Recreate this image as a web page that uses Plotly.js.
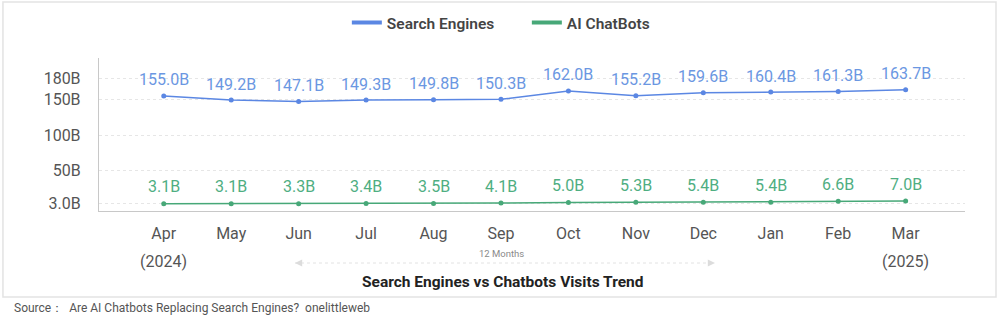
<!DOCTYPE html>
<html>
<head>
<meta charset="utf-8">
<script src="https://cdn.plot.ly/plotly-3.0.1.min.js"></script>
<style>
html,body{margin:0;padding:0;background:#fff;}
#chart{width:1000px;height:317px;}
</style>
</head>
<body>
<div id="chart"></div>
<script>
const months = ["Apr","May","Jun","Jul","Aug","Sep","Oct","Nov","Dec","Jan","Feb","Mar"];
const searchEngines = [155.0,149.2,147.1,149.3,149.8,150.3,162.0,155.2,159.6,160.4,161.3,163.7];
const aiChatbots = [3.1,3.1,3.3,3.4,3.5,4.1,5.0,5.3,5.4,5.4,6.6,7.0];
const yTickVals = [3,50,100,150,180];
const yTickText = ["3.0B","50B","100B","150B","180B"];
const seriesNames = ["Search Engines","AI ChatBots"];
const yearLabels = [["Apr","(2024)"],["Mar","(2025)"]];
const chartTitle = "Search Engines vs Chatbots Visits Trend";
const periodLabel = "12 Months";
const sourceText = "Source：  Are AI Chatbots Replacing Search Engines?  onelittleweb";

const blue = "#5b87e3", blueText = "#6b97e2";
const green = "#47a878", greenText = "#4fae82";
const FONT = "Roboto, Arial";

const traces = [
  {x: months, y: searchEngines, mode: "lines+markers", showlegend: false,
   line: {color: blue, width: 1.5}, marker: {color: blue, size: 5}, hoverinfo: "skip"},
  {x: months, y: aiChatbots, mode: "lines+markers", showlegend: false,
   line: {color: green, width: 1.5}, marker: {color: green, size: 5}, hoverinfo: "skip"},
  {x: [null], y: [null], mode: "lines", name: seriesNames[0], line: {color: blue, width: 4}},
  {x: [null], y: [null], mode: "lines", name: seriesNames[1], line: {color: green, width: 4}}
];

const annotations = [];
months.forEach((m, i) => {
  annotations.push({x: m, y: searchEngines[i], xref: "x", yref: "y", text: searchEngines[i].toFixed(1) + "B",
    showarrow: false, yshift: 16, font: {family: FONT, size: 16, color: blueText}});
  annotations.push({x: m, y: aiChatbots[i], xref: "x", yref: "y", text: aiChatbots[i].toFixed(1) + "B",
    showarrow: false, yshift: 17, font: {family: FONT, size: 16, color: greenText}});
});
yearLabels.forEach(([m, yr]) => {
  annotations.push({x: m, xref: "x", y: -0.33, yref: "paper", xanchor: "center", yanchor: "middle",
    text: yr, showarrow: false, font: {family: FONT, size: 16, color: "#555"}});
});
annotations.push({x: 0.465, xref: "paper", y: -0.28, yref: "paper", xanchor: "center", yanchor: "middle",
  text: periodLabel, showarrow: false, font: {family: FONT, size: 9.5, color: "#8a8a8a"}});
annotations.push({x: 0.467, xref: "paper", y: -0.465, yref: "paper", xanchor: "center", yanchor: "middle",
  text: "<b>" + chartTitle + "</b>", showarrow: false, font: {family: FONT, size: 15.5, color: "#222"}});
annotations.push({x: -0.1, xref: "paper", xanchor: "left", y: -0.635, yref: "paper", yanchor: "middle",
  text: sourceText, showarrow: false, font: {family: FONT, size: 12, color: "#555"}});
// arrow heads of the 12 months span
annotations.push({x: 0.2263, xref: "paper", y: -0.34, yref: "paper", ax: 6, ay: 0, text: "", showarrow: true,
  arrowhead: 2, arrowsize: 1.2, arrowwidth: 1.2, arrowcolor: "#dcdcdc"});
annotations.push({x: 0.7113, xref: "paper", y: -0.34, yref: "paper", ax: -6, ay: 0, text: "", showarrow: true,
  arrowhead: 2, arrowsize: 1.2, arrowwidth: 1.2, arrowcolor: "#dcdcdc"});

const shapes = [
  {type: "rect", xref: "paper", yref: "paper", x0: -0.1109, x1: 1.0358, y0: -0.562, y1: 1.366,
   line: {color: "#e3e3e3", width: 1.5}, fillcolor: "rgba(0,0,0,0)", layer: "below"},
  {type: "line", xref: "paper", yref: "paper", x0: 0.2263, x1: 0.7113, y0: -0.34, y1: -0.34,
   line: {color: "#e2e2e2", width: 1, dash: "dot"}}
];

const layout = {
  width: 1000, height: 317,
  margin: {l: 99, r: 35, t: 58, b: 106, pad: 0, autoexpand: false},
  paper_bgcolor: "#fff", plot_bgcolor: "#fff",
  font: {family: FONT, color: "#555"},
  showlegend: true,
  legend: {orientation: "h", x: 0.2862, xanchor: "left", y: 1.229, yanchor: "middle",
    font: {family: FONT, size: 15.5, color: "#444", weight: 600},
    entrywidth: 135, entrywidthmode: "pixels", tracegroupgap: 0, bgcolor: "rgba(0,0,0,0)"},
  xaxis: {type: "category", range: [-0.96, 11.88], showgrid: false, zeroline: false,
    showline: true, linecolor: "#c8c8c8", linewidth: 1.2,
    ticks: "outside", ticklen: 8, tickcolor: "rgba(0,0,0,0)",
    tickfont: {family: FONT, size: 16, color: "#555"}, fixedrange: true},
  yaxis: {range: [-7.04, 208.45], tickvals: yTickVals, ticktext: yTickText,
    showgrid: true, gridcolor: "#e6e6e6", griddash: "dot", gridwidth: 1, zeroline: false,
    showline: true, linecolor: "#c8c8c8", linewidth: 1.2,
    ticks: "outside", ticklen: 14, tickcolor: "rgba(0,0,0,0)",
    tickfont: {family: FONT, size: 16, color: "#555"}, fixedrange: true},
  annotations: annotations,
  shapes: shapes
};

Plotly.newPlot("chart", traces, layout, {displayModeBar: false, staticPlot: true});
</script>
</body>
</html>
